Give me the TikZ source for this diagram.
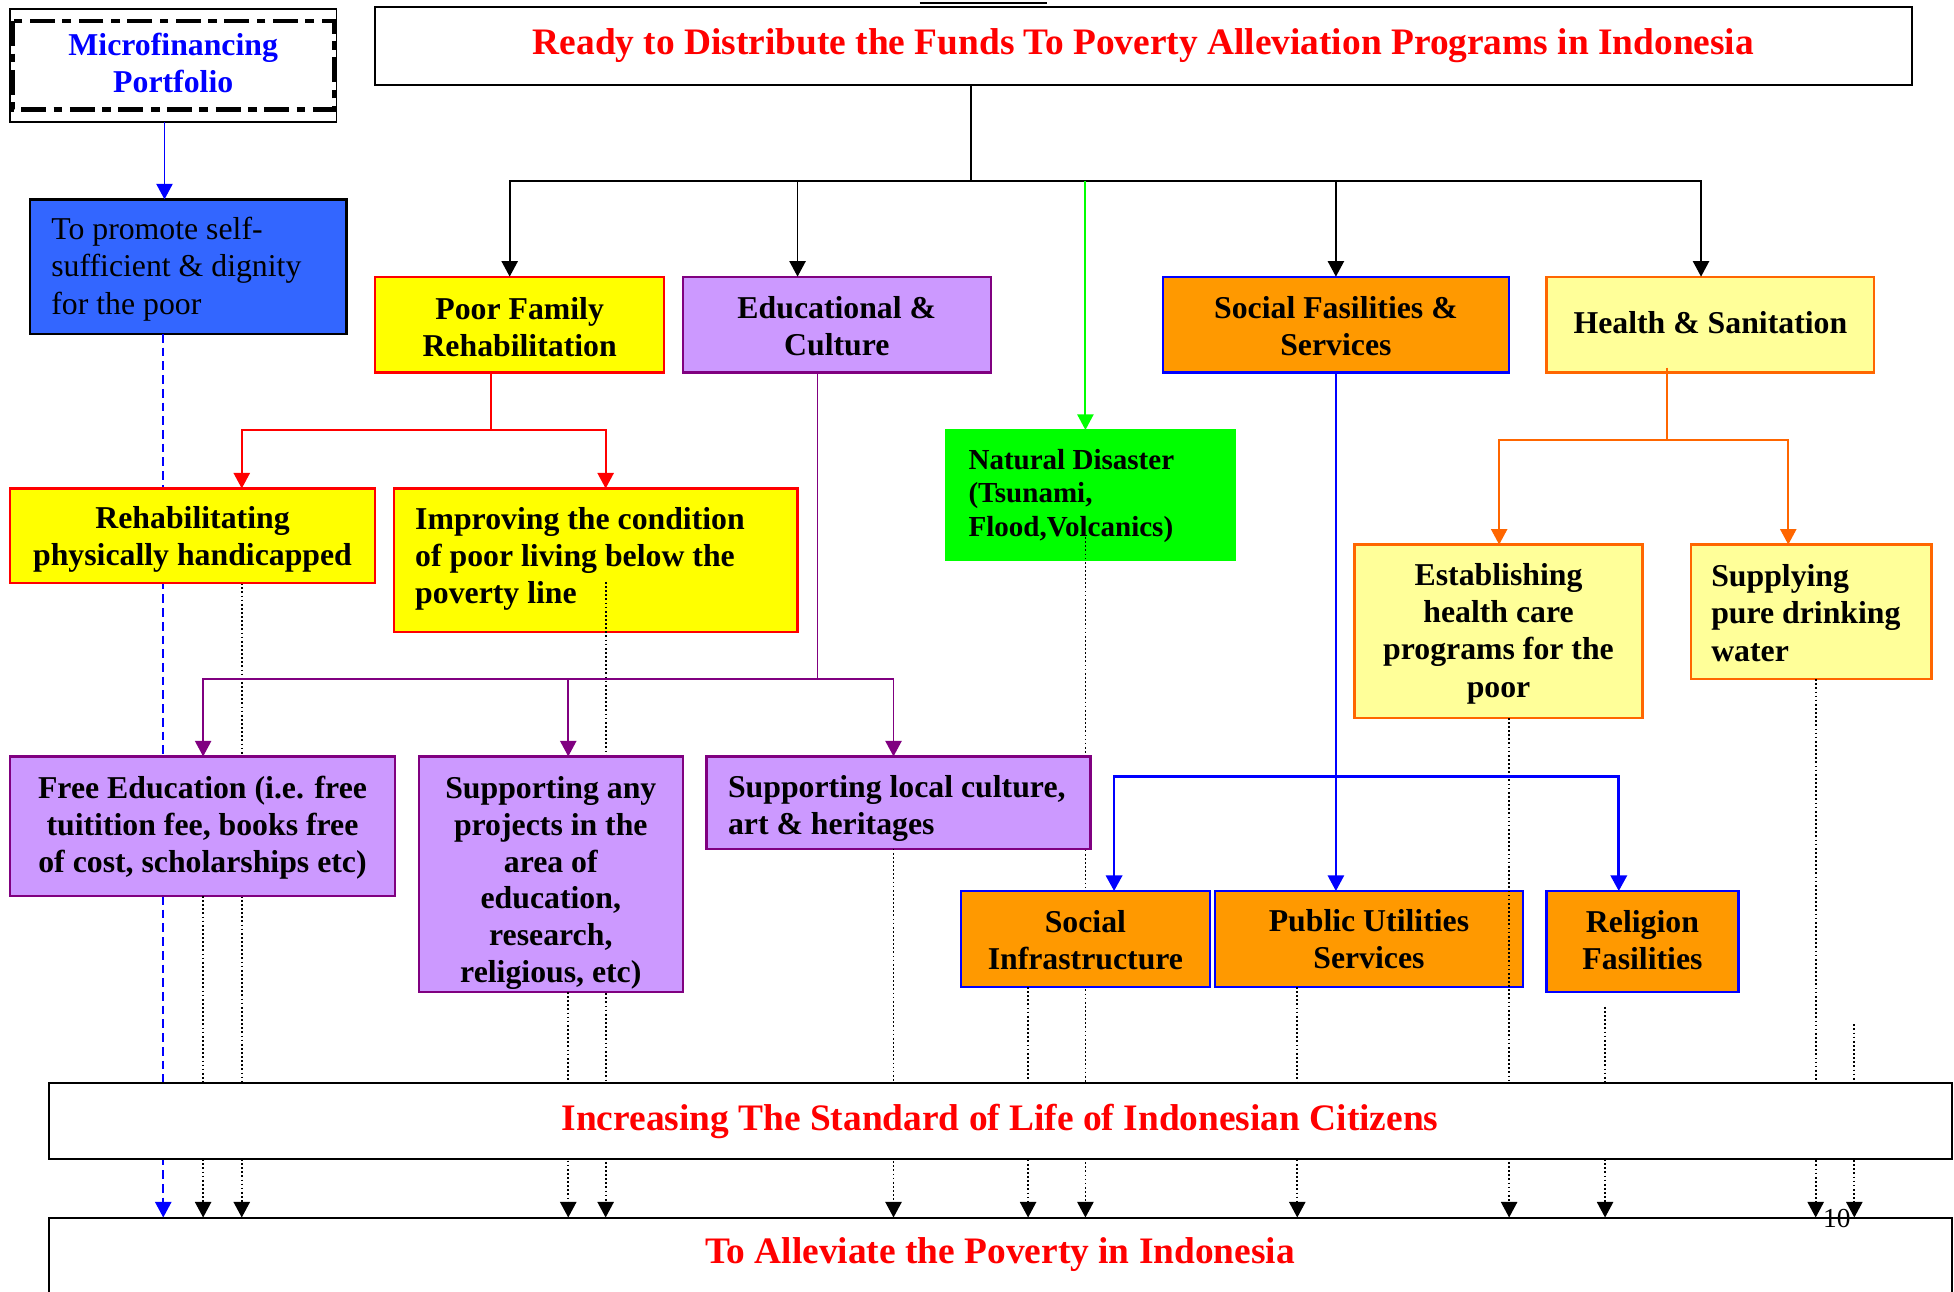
\documentclass[tikz,border=0pt]{standalone}
\usepackage{fontspec}
\setmainfont{Liberation Serif}
\usetikzlibrary{arrows.meta}
\definecolor{yel}{HTML}{FFFF00}
\definecolor{lyel}{HTML}{FFFF99}
\definecolor{lav}{HTML}{CC99FF}
\definecolor{purp}{HTML}{800080}
\definecolor{org}{HTML}{FF9900}
\definecolor{dorg}{HTML}{FF6600}
\definecolor{grn}{HTML}{00FF00}
\definecolor{bfill}{HTML}{3366FF}
\definecolor{pblue}{HTML}{0000FF}
\definecolor{pred}{HTML}{FF0000}
\newcommand\boxfont{\bfseries\fontsize{25.5pt}{29.8pt}\selectfont}
\newcommand\anyfont{\bfseries\fontsize{25.5pt}{29.4pt}\selectfont}
\newcommand\natfont{\bfseries\fontsize{23.3pt}{27pt}\selectfont}
\newcommand\regfont{\fontsize{25.5pt}{29.8pt}\selectfont}
\newcommand\titlefont{\bfseries\fontsize{30pt}{34pt}\selectfont}
\newcommand\pagefont{\fontsize{22pt}{24pt}\selectfont}
\begin{document}
\begin{tikzpicture}[x=1pt,y=-1pt,
  bx/.style={line width=1.8pt, inner sep=0pt, outer sep=0pt, align=center, font=\boxfont},
  txtl/.style={inner sep=0pt, align=left, font=\boxfont, anchor=west},
  txtc/.style={inner sep=0pt, align=center, font=\boxfont},
  arrowed/.style={-{Triangle[width=13pt,length=12.5pt]}},
  conn/.style={line width=1.5pt, arrowed},
  dotl/.style={line width=1.4pt, dash pattern=on 1.4pt off 1.9pt, arrowed},
]
\useasboundingbox (0,0) rectangle (1568,1036);
\clip (0,0) rectangle (1568,1036);
\fill[white] (0,0) rectangle (1568,1036);

% underline fragment at the top
\coordinate (ul1) at (738,2.5);
\coordinate (ul2) at (840,2.5);
\draw[line width=1.5pt] (ul1) -- (ul2);

% ---- boxes lying under dotted lines that show over them
\node[bx, draw=pred, fill=yel, minimum width=324pt, minimum height=115pt] (improv) at (478,449.5) {};
\node[txtl] (improvt) at ([xshift=17pt,yshift=1pt]improv.west) {Improving the condition\\of poor living below the\\poverty line};
\node[bx, draw=grn, fill=grn, minimum width=232pt, minimum height=104pt] (natural) at (875,397) {};
\node[txtl, font=\natfont] (naturalt) at ([xshift=18pt,yshift=-1pt]natural.west) {Natural Disaster\\(Tsunami,\\Flood,Volcanics)};
\node[bx, draw=pblue, fill=org, minimum width=247pt, minimum height=77pt] (pubutil) at (1098.5,753.5) {};
\node[txtc] (pubutilt) at ([yshift=0pt]pubutil.center) {Public Utilities\\Services};
\node[bx, draw=dorg, fill=lyel, minimum width=231pt, minimum height=139pt] (estab) at (1202.5,506.5) {};
\node[txtc] (estabt) at ([yshift=-2pt]estab.center) {Establishing\\health care\\programs for the\\poor};
\node[bx, draw=dorg, fill=lyel, minimum width=193pt, minimum height=108pt] (supply) at (1453.5,491) {};
\node[txtl] (supplyt) at ([xshift=16pt,yshift=-1pt]supply.west) {Supplying\\pure drinking\\water};

% ---- micro box and blue box
\node[draw=black, line width=1.3pt, outer sep=0pt, minimum width=262pt, minimum height=91pt] (micro) at (139,52.5) {};
\draw[line width=3.5pt, dash pattern=on 20pt off 6pt on 7pt off 6pt]
  ([xshift=2pt,yshift=-10pt]micro.north west) rectangle ([xshift=-2pt,yshift=10pt]micro.south east);
\node[txtc, text=pblue] (microt) at (139,50.5) {Microfinancing\\Portfolio};
\node[draw=black, line width=2pt, outer sep=0pt, fill=bfill, minimum width=254pt, minimum height=108pt] (bluebox) at (151,214) {};
\node[txtl, font=\regfont] (blueboxt) at ([xshift=17pt,yshift=-2pt]bluebox.west) {To promote self-\\sufficient \& dignity\\for the poor};

% ---- bottom box
\node[draw=black, line width=1.6pt, outer sep=0pt, minimum width=1527pt, minimum height=70pt, anchor=north west] (allev) at (39,977) {};
\node[font=\titlefont, text=pred, inner sep=0pt] (allevt) at (802.5,1007) {To Alleviate the Poverty in Indonesia};

% ---- named positions of the remaining boxes
\coordinate (cfree) at (162.5,663);
\coordinate (crehab) at (154.5,430);
\coordinate (csupany) at (442,701.5);
\coordinate (csuploc) at (721,644);
\coordinate (csocinf) at (871,753.5);
\coordinate (crelig) at (1318,755.5);
\coordinate (f1) at (1288,808);
\coordinate (f2) at (1488,822);

% ---- dotted lines that show over boxes
\draw[dotl] ([xshift=8pt,yshift=-17.5pt]improv.center) coordinate (d486) -- (d486 |- allev.north);
\draw[dotl] ([xshift=-4pt,yshift=-34pt]natural.center) coordinate (d871) -- (d871 |- allev.north);
\draw[dotl] ([xshift=8.5pt]estab.south) coordinate (d1211) -- (d1211 |- allev.north);
\draw[dotl] ([xshift=3.5pt]supply.south) coordinate (d1457) -- (d1457 |- allev.north);
\draw[dotl] (f1) -- (f1 |- allev.north);
\draw[dotl] (f2) -- (f2 |- allev.north);
\draw[dotl] ([xshift=-57.5pt]pubutil.south) coordinate (d1041) -- (d1041 |- allev.north);

% ---- lines passing under the next boxes
\draw[blue, line width=1.4pt, dash pattern=on 7pt off 4pt, arrowed] ([xshift=-20pt]bluebox.south) coordinate (d131) -- (d131 |- allev.north);
\draw[dotl] ([xshift=39.5pt]crehab |- 0,468) coordinate (d194) -- (d194 |- allev.north);

% ---- other boxes
\node[bx, draw=pred, fill=yel, minimum width=293pt, minimum height=76pt] (rehab) at (crehab) {};
\node[txtc] (rehabt) at ([yshift=-3pt]rehab.center) {Rehabilitating\\physically handicapped};
\node[bx, draw=purp, fill=lav, minimum width=309pt, minimum height=112pt] (free) at (cfree) {};
\node[txtc] (freet) at ([yshift=-1pt]free.center) {Free Education (i.e. free\\tuitition fee, books free\\of cost, scholarships etc)};
\node[bx, draw=purp, fill=lav, minimum width=212pt, minimum height=189pt] (supany) at (csupany) {};
\begin{scope}
  \clip (supany.south west) rectangle (supany.north east);
  \node[txtc, font=\anyfont] (supanyt) at ([yshift=-7pt]supany.center) {Supporting any\\projects in the\\area of\\education,\\research,\\religious, etc)};
\end{scope}
\draw[purp, line width=1.8pt] (supany.south west) rectangle (supany.north east);
\node[bx, draw=purp, fill=lav, minimum width=308pt, minimum height=74pt] (suploc) at (csuploc) {};
\begin{scope}
  \clip (suploc.south west) rectangle (suploc.north east);
  \node[txtl] (suploct) at ([xshift=17pt,yshift=-5pt]suploc.west) {Supporting local culture,\\art \& heritages};
\end{scope}
\draw[purp, line width=1.8pt] (suploc.south west) rectangle (suploc.north east);
\node[bx, draw=pblue, fill=org, minimum width=200pt, minimum height=77pt] (socinf) at (csocinf) {};
\node[txtc] (socinft) at ([yshift=-1pt]socinf.center) {Social\\Infrastructure};
\node[bx, draw=pblue, fill=org, minimum width=154pt, minimum height=81pt] (relig) at (crelig) {};
\node[txtc] (religt) at ([yshift=1pt]relig.center) {Religion\\Fasilities};

\draw[dotl] ([xshift=0.5pt]free.south) coordinate (d163) -- (d163 |- allev.north);
\draw[dotl] ([xshift=14pt]supany.south) coordinate (d456) -- (d456 |- allev.north);
\draw[dotl] ([xshift=-4pt]suploc.south) coordinate (d717) -- (d717 |- allev.north);
\draw[dotl] ([xshift=-46pt]socinf.south) coordinate (d825) -- (d825 |- allev.north);

% ---- top boxes
\node[bx, draw=black, line width=1.6pt, minimum width=1233pt, minimum height=62pt, font=\titlefont, text=pred] (top) at (917.5,37) {Ready to Distribute the Funds To Poverty Alleviation Programs in Indonesia};
\node[bx, draw=pred, fill=yel, minimum width=232pt, minimum height=77pt] (poor) at (417,260.5) {};
\node[txtc] (poort) at ([yshift=-2pt]poor.center) {Poor Family\\Rehabilitation};
\node[bx, draw=purp, fill=lav, minimum width=247pt, minimum height=77pt] (edu) at (671.5,260.5) {};
\node[txtc] (edut) at ([yshift=-1.5pt]edu.center) {Educational \&\\Culture};
\node[bx, draw=pblue, fill=org, minimum width=278pt, minimum height=77pt] (social) at (1072,260.5) {};
\node[txtc] (socialt) at ([yshift=-1pt]social.center) {Social Fasilities \&\\Services};
\node[bx, draw=dorg, fill=lyel, minimum width=263pt, minimum height=77pt] (health) at (1372.5,260.5) {};
\node[txtc] (healtht) at ([yshift=2pt]health.center) {Health \& Sanitation};

% ---- middle bottom box
\node[draw=black, line width=1.6pt, outer sep=0pt, fill=white, minimum width=1527pt, minimum height=61pt] (incr) at (802.5,899.5) {};
\node[font=\titlefont, text=pred, inner sep=0pt] (incrt) at (802.5,900) {Increasing The Standard of Life of Indonesian Citizens};

% ---- connectors
\draw[blue, conn] ([xshift=-7pt]micro.south) coordinate (m1) -- (m1 |- bluebox.north);

\coordinate (bus) at (779,145);
\draw[line width=1.5pt] (top.south -| bus) -- (bus);
\draw[conn] (bus) -| ([xshift=-8pt]poor.north);
\draw[conn] (bus) -| ([xshift=-31.5pt]edu.north);
\draw[conn] (bus) -| (social.north);
\draw[conn] (bus) -| ([xshift=-7.5pt]health.north);
\draw[grn, conn] ([xshift=-4pt]natural.north |- bus) -- ([xshift=-4pt]natural.north);

\coordinate (rbus) at (394,345);
\draw[pred, line width=1.5pt] (poor.south -| rbus) -- (rbus);
\draw[pred, conn] (rbus) -| ([xshift=39.5pt]rehab.north);
\draw[pred, conn] (rbus) -| ([xshift=8pt]improv.north);

\coordinate (obus) at (1338,353);
\draw[dorg, line width=1.5pt] ([yshift=4pt]health.south -| obus) -- (obus);
\draw[dorg, conn] (obus) -| ([xshift=0.5pt]estab.north);
\draw[dorg, conn] (obus) -| ([xshift=-18.5pt]supply.north);

\coordinate (pbus) at (656,545);
\draw[purp, line width=1.5pt] (edu.south -| pbus) -- (pbus);
\draw[purp, conn] (pbus) -| ([xshift=0.5pt]free.north);
\draw[purp, conn] (pbus) -| ([xshift=14pt]supany.north);
\draw[purp, conn] (pbus) -| ([xshift=-4pt]suploc.north);

\draw[pblue, conn] (social.south) -- (social.south |- pubutil.north);
\coordinate (bbus) at (1072,623);
\draw[pblue, conn, line width=2.2pt] (bbus) -| ([xshift=23pt]socinf.north);
\draw[pblue, conn, line width=2.2pt] (bbus) -| ([xshift=-19pt]relig.north);

% page number
\node[font=\pagefont, inner sep=0pt] (pagenum) at (1474,978) {10};
\end{tikzpicture}
\end{document}
